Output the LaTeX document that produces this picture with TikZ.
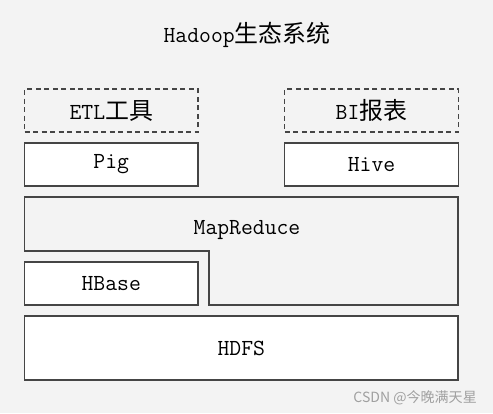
\documentclass[tikz,border=0pt]{standalone}
\usepackage{fontspec}
\newfontfamily\cjk{Noto Sans CJK SC}[Scale=1.04]
\newfontfamily\mono{Latin Modern Mono}
\definecolor{bggray}{HTML}{F3F3F3}
\definecolor{linegray}{HTML}{454545}
\definecolor{markgray}{HTML}{A0A0A0}

\begin{document}
\begin{tikzpicture}[x=1pt, y=-1pt,
    layer/.style={rectangle, draw=linegray, line width=1.3pt, inner sep=0pt,
        minimum width=173.5pt, minimum height=43pt,
        font=\fontsize{23}{26}\selectfont\mono},
    solid layer/.style={layer, fill=white},
    tool layer/.style={layer, dashed, dash pattern=on 5pt off 3.5pt}]

    % background
    \fill[bggray] (0,0) rectangle (493,413);
    \useasboundingbox (0,0) rectangle (493,413);

    % draw title
    \node [font=\fontsize{23}{26}\selectfont\mono]
        (title) at (247,35) {Hadoop{\cjk 生态系统}};

    % draw tool boxes
    \foreach \x/\n/\t in {111.25/etl/ETL{\cjk 工具}, 371.5/bi/BI{\cjk 报表}}
        \node [tool layer] (\n) at (\x,110.5) {\t};

    % draw solid boxes
    \foreach \x/\y/\n/\t in {111.25/164.5/pig/Pig, 371.5/164.5/hive/Hive,
        111.25/283.5/hbase/HBase}
        \node [solid layer] (\n) at (\x,\y) {\t};

    \node [solid layer, minimum width=433.5pt, minimum height=64pt]
        (hdfs) at (241.25,348) {HDFS};

    % draw mapreduce block
    \draw [draw=linegray, line width=1.3pt]
        (24.5,197) -- (24.5,251) -- (209,251) -- (209,305)
        -- (458,305) -- (458,197) -- cycle;
    \node [font=\fontsize{23}{26}\selectfont\mono]
        (mr) at (247,230) {MapReduce};

    % watermark
    \node [anchor=east, inner sep=0pt, text=markgray,
        font=\fontsize{13.5}{15}\selectfont\cjk]
        (mark) at (477,398) {CSDN @今晚满天星};

\end{tikzpicture}
\end{document}
